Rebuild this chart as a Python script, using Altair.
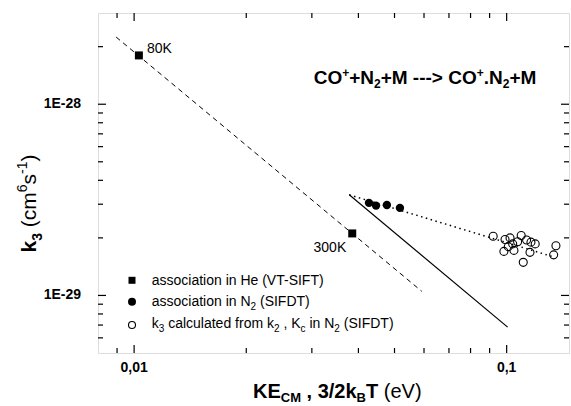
import altair as alt
import pandas as pd

# ---------------- data ----------------
he_x = [0.0103, 0.0385]
he_y = [1.80e-28, 2.11e-29]
he_label = ["80K", "300K"]

n2_x = [0.0427, 0.0446, 0.0477, 0.0517]
n2_y = [3.05e-29, 2.95e-29, 2.97e-29, 2.87e-29]

calc_x = [0.0920, 0.0990, 0.1021, 0.1094, 0.1131, 0.1162, 0.1193, 0.1070,
          0.1010, 0.0983, 0.1046, 0.1155, 0.1108, 0.1356, 0.1337, 0.1038]
calc_y = [2.04e-29, 1.96e-29, 2.00e-29, 2.06e-29, 1.95e-29, 1.90e-29, 1.86e-29, 1.91e-29,
          1.80e-29, 1.70e-29, 1.72e-29, 1.68e-29, 1.49e-29, 1.82e-29, 1.63e-29, 1.86e-29]

dash_x = [0.00895, 0.0592]
dash_y = [2.245e-28, 1.05e-29]
solid_x = [0.0378, 0.1006]
solid_y = [3.36e-29, 6.83e-30]
dot_x = [0.0378, 0.1323]
dot_y = [3.36e-29, 1.60e-29]

x_major_ticks = [0.01, 0.1]
x_minor_ticks = [0.009, 0.02, 0.03, 0.04, 0.05, 0.06, 0.07, 0.08, 0.09]
y_major_ticks = [1e-29, 1e-28]
y_minor_ticks = [6e-30, 7e-30, 8e-30, 9e-30, 2e-29, 3e-29, 4e-29, 5e-29,
                 6e-29, 7e-29, 8e-29, 9e-29, 2e-28]
x_tick_labels = ["0,01", "0,1"]
y_tick_labels = ["1E-29", "1E-28"]

legend_texts = ["association in He (VT-SIFT)", "association in N", "k"]

# ---------------- layout ----------------
FONT = "Liberation Sans"
W, H = 471, 340
PAD_L, PAD_T = 98, 13
MAJ, MIN = 8, 5

xscale = alt.Scale(type="log", domain=[0.008, 0.147], nice=False)
yscale = alt.Scale(type="log", domain=[5e-30, 3e-28], nice=False)


def X(field="x"):
    return alt.X(f"{field}:Q", scale=xscale, axis=None)


def Y(field="y"):
    return alt.Y(f"{field}:Q", scale=yscale, axis=None)


ONE = alt.Data(values=[{"a": 1}])

REG = {' ': 278, '(': 333, ')': 333, '+': 584, ',': 278, '-': 333, '.': 278, '/': 278, '>': 584,
       'A': 667, 'B': 667, 'C': 722, 'D': 722, 'E': 667, 'F': 611, 'H': 722, 'I': 278, 'K': 667,
       'M': 833, 'N': 722, 'O': 778, 'S': 667, 'T': 611, 'V': 667,
       'a': 556, 'c': 500, 'd': 556, 'e': 556, 'f': 278, 'i': 222, 'k': 500, 'l': 222, 'm': 833,
       'n': 556, 'o': 556, 'r': 333, 's': 500, 't': 278, 'u': 556}
BOLD = {' ': 278, '(': 333, ')': 333, '+': 584, ',': 278, '-': 333, '.': 278, '/': 278, '>': 584,
        'B': 722, 'C': 722, 'E': 667, 'K': 722, 'M': 833, 'N': 722, 'O': 778, 'T': 611, 'V': 667,
        'k': 556, 'e': 556}


def tw(s, size, bold):
    t = BOLD if bold else REG
    return sum(t.get(c, 556) for c in s) * size / 1000.0


def run_width(runs):
    return sum(tw(t, s, b) for t, s, b, _ in runs)


def run_layers(runs, x0, y0, vertical=False):
    out = []
    cur = 0.0
    for text, size, bold, shift in runs:
        body = text.strip(" ")
        lead = len(text) - len(text.lstrip(" "))
        trail = len(text) - lead - len(body)
        cur += tw(" " * lead, size, bold)
        if vertical:
            px, py, ang = x0 + shift, y0 - cur, 270
        else:
            px, py, ang = x0 + cur, y0 + shift, 0
        out.append(
            alt.Chart(ONE).mark_text(text=body, font=FONT, fontSize=size,
                                     fontWeight="bold" if bold else "normal",
                                     align="left", baseline="alphabetic", angle=ang,
                                     color="black")
            .encode(x=alt.value(px - PAD_L), y=alt.value(py - PAD_T))
        )
        cur += tw(body, size, bold) + tw(" " * trail, size, bold)
    return out


layers = []

# ---------------- lines ----------------
layers.append(alt.Chart(pd.DataFrame({"x": dash_x, "y": dash_y}))
              .mark_line(color="black", strokeWidth=1, strokeDash=[5, 4])
              .encode(x=X(), y=Y()))
layers.append(alt.Chart(pd.DataFrame({"x": solid_x, "y": solid_y}))
              .mark_line(color="black", strokeWidth=1.2)
              .encode(x=X(), y=Y()))
layers.append(alt.Chart(pd.DataFrame({"x": dot_x, "y": dot_y}))
              .mark_line(color="black", strokeWidth=1.5, strokeDash=[1.5, 3.5])
              .encode(x=X(), y=Y()))

# ---------------- points ----------------
he_df = pd.DataFrame({"x": he_x, "y": he_y, "label": he_label})
layers.append(alt.Chart(he_df).mark_point(shape="square", filled=True, size=64,
                                          color="black", opacity=1)
              .encode(x=X(), y=Y()))
layers.append(alt.Chart(pd.DataFrame({"x": n2_x, "y": n2_y}))
              .mark_point(shape="circle", filled=True, size=70, color="black", opacity=1)
              .encode(x=X(), y=Y()))
layers.append(alt.Chart(pd.DataFrame({"x": calc_x, "y": calc_y}))
              .mark_point(shape="circle", filled=False, size=64, color="black",
                          strokeWidth=1.1, opacity=1)
              .encode(x=X(), y=Y()))

# point labels
layers.append(alt.Chart(he_df).transform_filter(f"datum.label == '{he_label[0]}'")
              .mark_text(font=FONT, fontSize=14, align="left", baseline="alphabetic",
                         dx=8, dy=-2, color="black")
              .encode(x=X(), y=Y(), text="label:N"))
layers.append(alt.Chart(he_df).transform_filter(f"datum.label == '{he_label[1]}'")
              .mark_text(font=FONT, fontSize=14, align="right", baseline="alphabetic",
                         dx=-6, dy=19, color="black")
              .encode(x=X(), y=Y(), text="label:N"))

# ---------------- inward ticks on all four sides ----------------
for vals, L in ((x_major_ticks, MAJ), (x_minor_ticks, MIN)):
    df = pd.DataFrame({"v": vals})
    layers.append(alt.Chart(df).mark_rule(color="black", strokeWidth=1.2)
                  .encode(x=X("v"), y=alt.value(H), y2=alt.value(H - L)))
    layers.append(alt.Chart(df).mark_rule(color="black", strokeWidth=1.2)
                  .encode(x=X("v"), y=alt.value(0), y2=alt.value(L)))
for vals, L in ((y_major_ticks, MAJ), (y_minor_ticks, MIN)):
    df = pd.DataFrame({"v": vals})
    layers.append(alt.Chart(df).mark_rule(color="black", strokeWidth=1.2)
                  .encode(y=Y("v"), x=alt.value(0), x2=alt.value(L)))
    layers.append(alt.Chart(df).mark_rule(color="black", strokeWidth=1.2)
                  .encode(y=Y("v"), x=alt.value(W), x2=alt.value(W - L)))

# ---------------- tick labels ----------------
layers.append(alt.Chart(pd.DataFrame({"v": x_major_ticks, "t": x_tick_labels}))
              .mark_text(font=FONT, fontSize=14, fontWeight="bold", align="center",
                         baseline="top", color="black")
              .encode(x=X("v"), y=alt.value(H + 8)))
layers[-1] = layers[-1].encode(text="t:N")
layers.append(alt.Chart(pd.DataFrame({"v": y_major_ticks, "t": y_tick_labels}))
              .mark_text(font=FONT, fontSize=14, fontWeight="bold", align="right",
                         baseline="middle", color="black")
              .encode(y=Y("v"), x=alt.value(-17), text="t:N"))

# ---------------- reaction text ----------------
reaction = [("CO", 19, True, 0), ("+", 12, True, -7), ("+N", 19, True, 0), ("2", 12, True, 4),
            ("+M ---> CO", 19, True, 0), ("+", 12, True, -7), (".N", 19, True, 0),
            ("2", 12, True, 4), ("+M", 19, True, 0)]
layers += run_layers(reaction, 425 - run_width(reaction) / 2, 84)

# ---------------- axis titles ----------------
xtitle = [("KE", 20, True, 0), ("CM", 13, True, 4), (" , 3/2k", 20, True, 0),
          ("B", 13, True, 4), ("T", 20, True, 0), (" (eV)", 20, False, 0)]
layers += run_layers(xtitle, 253, 398)

ytitle = [("k", 21, True, 0), ("3", 14, True, 6), (" (cm", 21, False, 0), ("6", 14, False, -9),
          ("s", 21, False, 0), ("-1", 14, False, -9), (")", 21, False, 0)]
layers += run_layers(ytitle, 35.5, 252.5, vertical=True)

# ---------------- legend ----------------
LX, LT = 132, 151.7
sym_rows = [("square", True, 49, 280.3), ("circle", True, 64, 301.7), ("circle", False, 49, 325)]
for shape, filled, size, cy in sym_rows:
    layers.append(alt.Chart(ONE).mark_point(shape=shape, filled=filled, size=size, color="black",
                                            strokeWidth=1.1, opacity=1)
                  .encode(x=alt.value(LX - PAD_L), y=alt.value(cy - PAD_T)))
layers += run_layers([(legend_texts[0], 14, False, 0)], LT, 285)
layers += run_layers([(legend_texts[1], 14, False, 0), ("2", 10, False, 4),
                      (" (SIFDT)", 14, False, 0)], LT, 306)
layers += run_layers([(legend_texts[2], 14, False, 0), ("3", 10, False, 4),
                      (" calculated from k", 14, False, 0), ("2", 10, False, 4),
                      (" , K", 14, False, 0), ("c", 10, False, 4), (" in N", 14, False, 0),
                      ("2", 10, False, 4), (" (SIFDT)", 14, False, 0)], LT, 327.5)

chart = (
    alt.layer(*layers)
    .properties(width=W, height=H, autosize="none",
                padding={"left": PAD_L, "top": PAD_T, "right": 571 - PAD_L - W,
                         "bottom": 406 - PAD_T - H})
    .configure_view(stroke="black", strokeWidth=1.8)
    .configure(background="white")
)

chart.save("out.html", embed_options={"renderer": "svg", "actions": False})
